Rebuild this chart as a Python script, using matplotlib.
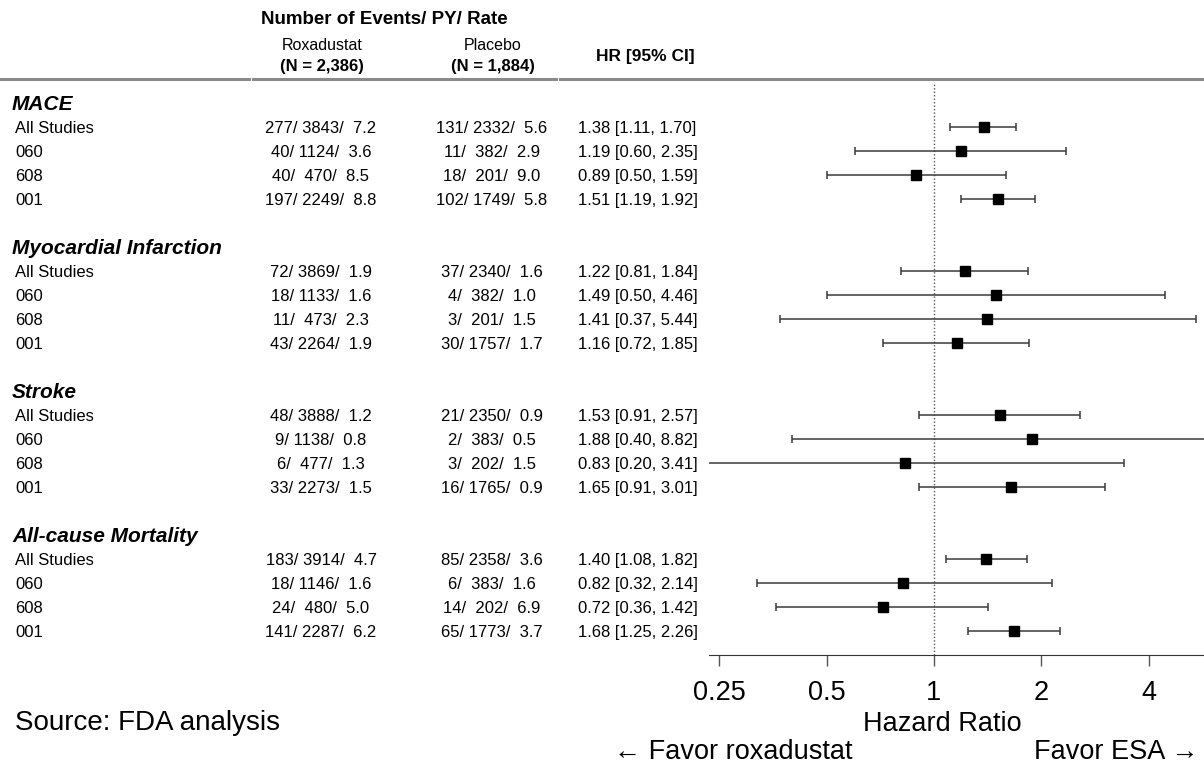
import matplotlib
matplotlib.use("Agg")
import matplotlib.pyplot as plt
import matplotlib.transforms as mtransforms
from matplotlib.lines import Line2D
import numpy as np

plt.rcParams["font.family"] = ["Liberation Sans", "DejaVu Sans"]

# data
groups = ["MACE", "Myocardial Infarction", "Stroke", "All-cause Mortality"]
studies = ["All Studies", "060", "608", "001"]

rox_events = [277, 40, 40, 197, 72, 18, 11, 43, 48, 9, 6, 33, 183, 18, 24, 141]
rox_py = [3843, 1124, 470, 2249, 3869, 1133, 473, 2264, 3888, 1138, 477, 2273, 3914, 1146, 480, 2287]
rox_rate = [7.2, 3.6, 8.5, 8.8, 1.9, 1.6, 2.3, 1.9, 1.2, 0.8, 1.3, 1.5, 4.7, 1.6, 5.0, 6.2]

pla_events = [131, 11, 18, 102, 37, 4, 3, 30, 21, 2, 3, 16, 85, 6, 14, 65]
pla_py = [2332, 382, 201, 1749, 2340, 382, 201, 1757, 2350, 383, 202, 1765, 2358, 383, 202, 1773]
pla_rate = [5.6, 2.9, 9.0, 5.8, 1.6, 1.0, 1.5, 1.7, 0.9, 0.5, 1.5, 0.9, 3.6, 1.6, 6.9, 3.7]

hr = [1.38, 1.19, 0.89, 1.51, 1.22, 1.49, 1.41, 1.16, 1.53, 1.88, 0.83, 1.65, 1.40, 0.82, 0.72, 1.68]
hr_lo = [1.11, 0.60, 0.50, 1.19, 0.81, 0.50, 0.37, 0.72, 0.91, 0.40, 0.20, 0.91, 1.08, 0.32, 0.36, 1.25]
hr_hi = [1.70, 2.35, 1.59, 1.92, 1.84, 4.46, 5.44, 1.85, 2.57, 8.82, 3.41, 3.01, 1.82, 2.14, 1.42, 2.26]

xticks = [0.25, 0.5, 1, 2, 4]
xtick_labels = ["0.25", "0.5", "1", "2", "4"]

W, H = 1204, 770
fig = plt.figure(figsize=(W / 100, H / 100), dpi=100)


def fx(px):
    return px / W


def fy(py):
    return 1 - py / H


ax = fig.add_axes([fx(709), fy(655), fx(1204) - fx(709), fy(82) - fy(655)])
ax.set_xscale("log", base=2)
ax.set_xlim(0.234, 5.72)
ax.set_ylim(23.0, -0.875)

# row layout: header, 4 studies, blank
group_y = [g * 6 for g in range(len(groups))]
row_y = np.array([g * 6 + 1 + s for g in range(len(groups)) for s in range(len(studies))])

ax.axvline(1, color="#555555", lw=1.0, ls=(0, (1, 1.5)), zorder=1)

hr_a = np.array(hr)
xerr = [hr_a - np.array(hr_lo), np.array(hr_hi) - hr_a]
ax.errorbar(hr_a, row_y, xerr=xerr, fmt="none", ecolor="#3a3a3a",
            elinewidth=1.1, capsize=3.2, capthick=1.1, zorder=2)
ax.plot(hr_a, row_y, "s", color="black", markersize=6.5, zorder=3)

for side in ["top", "right", "left"]:
    ax.spines[side].set_visible(False)
ax.spines["bottom"].set_bounds(0.234, 5.72)
ax.spines["bottom"].set_color("#333333")
ax.set_yticks([])
ax.set_xticks(xticks)
ax.set_xticklabels(xtick_labels)
ax.xaxis.set_minor_locator(matplotlib.ticker.NullLocator())
ax.tick_params(axis="x", length=8, width=1, color="#555555", pad=10, labelsize=19.5)
ax.set_xlabel("Hazard Ratio", fontsize=19.5, labelpad=4)
ax.xaxis.set_label_coords((942 - 709) / (1204 - 709), -0.098)

# table text
tr = mtransforms.blended_transform_factory(fig.transFigure, ax.transData)
for g, name in enumerate(groups):
    ax.text(fx(12), group_y[g], name, transform=tr, fontsize=15,
            fontweight="bold", fontstyle="italic", va="center_baseline", ha="left")
for i, y in enumerate(row_y):
    ax.text(fx(15), y, studies[i % 4], transform=tr, fontsize=12,
            va="center_baseline", ha="left")
    ax.text(fx(321), y, f"{rox_events[i]}/ {rox_py[i]:4d}/ {rox_rate[i]:4.1f}",
            transform=tr, fontsize=12, va="center_baseline", ha="center")
    ax.text(fx(492), y, f"{pla_events[i]}/ {pla_py[i]:4d}/ {pla_rate[i]:4.1f}",
            transform=tr, fontsize=12, va="center_baseline", ha="center")
    ax.text(fx(578), y, f"{hr[i]:.2f} [{hr_lo[i]:.2f}, {hr_hi[i]:.2f}]",
            transform=tr, fontsize=12, va="center_baseline", ha="left")

# column headers
fig.text(fx(384), fy(20), "Number of Events/ PY/ Rate", fontsize=13.5,
         fontweight="bold", ha="center", va="center")
fig.text(fx(322), fy(46), "Roxadustat", fontsize=11.5, ha="center", va="center")
fig.text(fx(322), fy(67), "(N = 2,386)", fontsize=12, fontweight="bold", ha="center", va="center")
fig.text(fx(493), fy(46), "Placebo", fontsize=11.5, ha="center", va="center")
fig.text(fx(493), fy(67), "(N = 1,884)", fontsize=12, fontweight="bold", ha="center", va="center")
fig.text(fx(645), fy(57), "HR [95% CI]", fontsize=12.5, fontweight="bold", ha="center", va="center")

for x0, x1 in [(0, 249), (253, 556), (560, 1204)]:
    fig.add_artist(Line2D([fx(x0), fx(x1)], [fy(79), fy(79)], color="#8a8a8a", lw=2.2))

# footer
fig.text(fx(15), fy(723), "Source: FDA analysis", fontsize=20, ha="left", va="center")
fig.text(fx(853), fy(752), "\u2190 Favor roxadustat", fontsize=19.5, ha="right", va="center")
fig.text(fx(1198), fy(752), "Favor ESA \u2192", fontsize=19.5, ha="right", va="center")

fig.savefig("out.png", dpi=100)
